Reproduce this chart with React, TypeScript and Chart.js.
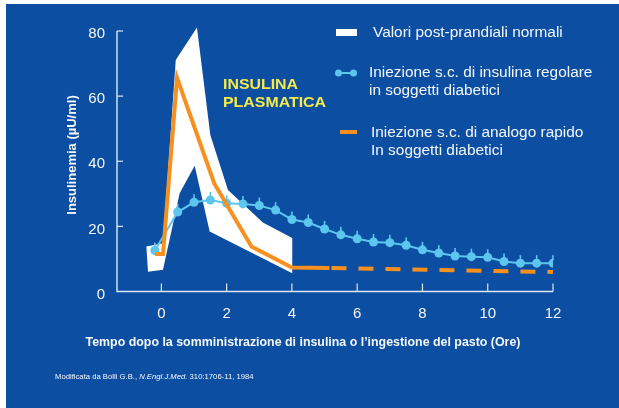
import React, { useEffect, useRef } from 'react';
import { Chart, registerables } from 'chart.js';

Chart.register(...registerables);

// ---- data ----
const xTicks = [0, 2, 4, 6, 8, 10, 12];
const yTicks = [0, 20, 40, 60, 80];

// Normal post-prandial band (polygon: upper edge left->right, lower edge right->left)
const bandX = [-0.46, 0.05, 0.44, 1.09, 1.5, 2.04, 3.11, 4.01, 4.01, 1.48, 1.02, 0.56, 0.05, -0.41];
const bandY = [13.8, 14.8, 71.1, 81.1, 48.1, 31.2, 21.2, 16.4, 5.6, 18.4, 38.6, 30.2, 6.7, 6.1];

// Regular insulin s.c. in diabetic subjects
const regularX = [-0.2, 0.5, 1.0, 1.5, 2.0, 2.5, 3.0, 3.5, 4.0, 4.5, 5.0, 5.5, 6.0, 6.5, 7.0, 7.5, 8.0, 8.5, 9.0, 9.5, 10.0, 10.5, 11.0, 11.5, 12.0];
const regularY = [12.6, 24.4, 27.4, 28.1, 27.1, 26.9, 26.4, 25.0, 22.1, 21.2, 19.2, 17.4, 16.2, 15.2, 15.0, 14.2, 12.8, 11.8, 10.9, 10.7, 10.5, 9.2, 8.7, 8.7, 8.7];

// Rapid analogue s.c. in diabetic subjects
const analogX = [-0.2, 0.05, 0.48, 1.62, 2.76, 4.0, 5.15, 12.0];
const analogY = [11.5, 11.5, 65.6, 33.2, 13.8, 7.4, 7.2, 6.0];

const legendBand = 'Valori post-prandiali normali';
const legendRegular = ['Iniezione s.c. di insulina regolare', 'in soggetti diabetici'];
const legendAnalog = ['Iniezione s.c. di analogo rapido', 'In soggetti diabetici'];
const annotationLines = ['INSULINA', 'PLASMATICA'];
const yTitle = 'Insulinemia (µU/ml)';
const xTitle = 'Tempo dopo la somministrazione di insulina o l’ingestione del pasto (Ore)';
const citeA = 'Modificata da Bolli G.B., ';
const citeB = 'N.Engl.J.Med.';
const citeC = ' 310:1706-11, 1984';

// ---- styles ----
const BG = '#0c4ea2';
const TXT = '#f4f7fc';
const AXIS = '#dfe7f3';
const BLUE = '#5cc6ee';
const ORANGE = '#f7901e';
const YELLOW = '#f6ea48';
const FONT = '"Liberation Sans", Arial, Helvetica, sans-serif';

function textX(ctx: CanvasRenderingContext2D, text: string, x: number, y: number, sx: number) {
  ctx.save();
  ctx.translate(x, y);
  ctx.scale(sx, 1);
  ctx.fillText(text, 0, 0);
  ctx.restore();
}

const decoPlugin = {
  id: 'deco',
  beforeDraw(chart: any) {
    const { ctx, width, height } = chart;
    ctx.save();
    ctx.fillStyle = '#ffffff';
    ctx.fillRect(0, 0, width, height);
    ctx.fillStyle = BG;
    ctx.fillRect(6, 4, width - 6, height - 4);
    ctx.restore();
  },
  beforeDatasetsDraw(chart: any) {
    const { ctx, scales } = chart;
    const xs = scales.x;
    const ys = scales.y;
    const y0 = ys.getPixelForValue(0);
    const yTop = ys.getPixelForValue(yTicks[yTicks.length - 1]);
    const xL = chart.chartArea.left;
    const xR = xs.getPixelForValue(xTicks[xTicks.length - 1]);
    ctx.save();
    ctx.strokeStyle = AXIS;
    ctx.lineWidth = 1.4;
    ctx.beginPath();
    ctx.moveTo(xL, yTop);
    ctx.lineTo(xL, y0);
    ctx.lineTo(xR, y0);
    ctx.stroke();
    ctx.lineWidth = 1.2;
    for (const v of xTicks) {
      const px = xs.getPixelForValue(v);
      ctx.beginPath();
      ctx.moveTo(px, y0);
      ctx.lineTo(px, y0 - 8);
      ctx.stroke();
    }
    for (const v of yTicks) {
      if (v === 0) continue;
      const py = ys.getPixelForValue(v);
      ctx.beginPath();
      ctx.moveTo(xL, py);
      ctx.lineTo(xL + 6, py);
      ctx.stroke();
    }
    ctx.restore();
  },
  afterDatasetsDraw(chart: any) {
    const { ctx } = chart;
    const meta = chart.getDatasetMeta(1);
    ctx.save();
    ctx.strokeStyle = BLUE;
    ctx.lineWidth = 1.6;
    for (const el of meta.data) {
      ctx.beginPath();
      ctx.moveTo(el.x, el.y - 3);
      ctx.lineTo(el.x, el.y - 8);
      ctx.stroke();
    }
    ctx.restore();
  },
  afterDraw(chart: any) {
    const { ctx } = chart;
    ctx.save();
    // axis titles
    ctx.fillStyle = TXT;
    ctx.font = `bold 12.4px ${FONT}`;
    ctx.textAlign = 'center';
    ctx.textBaseline = 'middle';
    ctx.fillText(xTitle, 303, 343);
    ctx.save();
    ctx.translate(72, 155);
    ctx.rotate(-Math.PI / 2);
    ctx.font = `bold 13px ${FONT}`;
    ctx.fillText(yTitle, 0, 0);
    ctx.restore();

    // annotation
    ctx.fillStyle = YELLOW;
    ctx.font = `bold 15px ${FONT}`;
    ctx.textAlign = 'left';
    textX(ctx, annotationLines[0], 223, 85, 1.06);
    textX(ctx, annotationLines[1], 223, 103, 1.06);

    // legend
    ctx.fillStyle = '#ffffff';
    ctx.fillRect(336, 29, 21, 7);
    ctx.fillStyle = TXT;
    ctx.font = `14px ${FONT}`;
    textX(ctx, legendBand, 373, 33, 1.1);

    ctx.strokeStyle = BLUE;
    ctx.lineWidth = 2;
    ctx.beginPath();
    ctx.moveTo(338, 73);
    ctx.lineTo(354, 73);
    ctx.stroke();
    ctx.fillStyle = BLUE;
    for (const cx of [338.5, 353.5]) {
      ctx.beginPath();
      ctx.arc(cx, 73, 3.5, 0, Math.PI * 2);
      ctx.fill();
    }
    ctx.fillStyle = TXT;
    textX(ctx, legendRegular[0], 369, 73, 1.1);
    textX(ctx, legendRegular[1], 369, 91, 1.1);

    ctx.strokeStyle = ORANGE;
    ctx.lineWidth = 4;
    ctx.beginPath();
    ctx.moveTo(340, 132);
    ctx.lineTo(357, 132);
    ctx.stroke();
    textX(ctx, legendAnalog[0], 371, 133, 1.1);
    textX(ctx, legendAnalog[1], 371, 151, 1.1);

    // citation
    ctx.font = `7.7px ${FONT}`;
    let x = 55;
    const cy = 377;
    ctx.fillText(citeA, x, cy);
    x += ctx.measureText(citeA).width;
    ctx.font = `italic 7.7px ${FONT}`;
    ctx.fillText(citeB, x, cy);
    x += ctx.measureText(citeB).width;
    ctx.font = `7.7px ${FONT}`;
    ctx.fillText(citeC, x, cy);
    ctx.restore();
  },
};

export default function App() {
  const ref = useRef<HTMLCanvasElement | null>(null);
  useEffect(() => {
    if (!ref.current) return;
    const chart = new Chart(ref.current, {
      type: 'line',
      data: {
        datasets: [
          {
            label: legendAnalog[0],
            data: analogX.map((x, i) => ({ x, y: analogY[i] })),
            borderColor: ORANGE,
            backgroundColor: ORANGE,
            borderWidth: 4,
            pointRadius: 0,
            tension: 0,
            fill: false,
            borderCapStyle: 'butt',
            borderJoinStyle: 'miter',
            order: 1,
            segment: {
              borderDash: (c: any) => (c.p0.parsed.x >= 5 ? [15, 12] : undefined),
              borderDashOffset: (c: any) => (c.p0.parsed.x >= 5 ? 25 : undefined),
            },
          } as any,
          {
            label: legendRegular[0],
            data: regularX.map((x, i) => ({ x, y: regularY[i] })),
            borderColor: BLUE,
            backgroundColor: BLUE,
            borderWidth: 2,
            pointRadius: 4.5,
            pointBorderWidth: 0,
            pointBackgroundColor: BLUE,
            tension: 0,
            fill: false,
            order: 2,
          },
          {
            label: legendBand,
            data: bandX.map((x, i) => ({ x, y: bandY[i] })),
            borderColor: '#ffffff',
            backgroundColor: '#ffffff',
            borderWidth: 0,
            pointRadius: 0,
            tension: 0,
            fill: 'shape',
            order: 3,
          } as any,
        ],
      },
      options: {
        animation: false,
        responsive: false,
        maintainAspectRatio: false,
        layout: { padding: { left: 0, right: 66, top: 24.5, bottom: 0 } },
        plugins: {
          legend: { display: false },
          tooltip: { enabled: false },
        },
        scales: {
          x: {
            type: 'linear',
            min: -1.36,
            max: 12,
            grid: { display: false, drawTicks: false },
            border: { display: false },
            afterBuildTicks: (s: any) => {
              s.ticks = xTicks.map((v) => ({ value: v }));
            },
            afterFit: (s: any) => {
              s.height = 116.5;
            },
            ticks: {
              color: TXT,
              font: { family: FONT, size: 15 },
              padding: 13,
              maxRotation: 0,
              autoSkip: false,
            },
          },
          y: {
            type: 'linear',
            min: 0,
            max: 82,
            grid: { display: false, drawTicks: false },
            border: { display: false },
            afterBuildTicks: (s: any) => {
              s.ticks = yTicks.map((v) => ({ value: v }));
            },
            afterFit: (s: any) => {
              s.width = 117;
            },
            ticks: {
              color: TXT,
              font: { family: FONT, size: 15 },
              padding: 12,
              labelOffset: 3,
            },
          },
        },
      } as any,
      plugins: [decoPlugin],
    });
    return () => chart.destroy();
  }, []);

  return (
    <div style={{ position: 'absolute', left: 0, top: 0, width: 619, height: 408 }}>
      <canvas ref={ref} width={619} height={408} style={{ display: 'block', width: 619, height: 408 }} />
    </div>
  );
}
